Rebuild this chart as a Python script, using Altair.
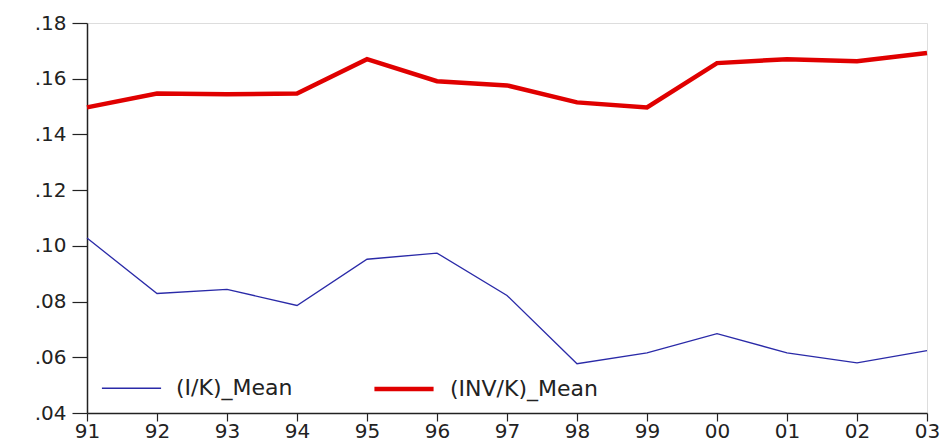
import altair as alt
import pandas as pd

years = ["91", "92", "93", "94", "95", "96", "97", "98", "99", "00", "01", "02", "03"]
ik_mean = [0.1028, 0.0829, 0.0844, 0.0786, 0.0952, 0.0974, 0.0822, 0.0577, 0.0616, 0.0685, 0.0616, 0.0580, 0.0624]
invk_mean = [0.1497, 0.1547, 0.1544, 0.1547, 0.1670, 0.1591, 0.1576, 0.1515, 0.1497, 0.1656, 0.1670, 0.1663, 0.1692]
series_names = ["(I/K)_Mean", "(INV/K)_Mean"]
y_ticks = [0.04, 0.06, 0.08, 0.10, 0.12, 0.14, 0.16, 0.18]

rows = []
for i, y in enumerate(years):
    rows.append({"idx": i, "year": y, "series": series_names[0], "value": ik_mean[i]})
    rows.append({"idx": i, "year": y, "series": series_names[1], "value": invk_mean[i]})
df = pd.DataFrame(rows)

font = "DejaVu Sans"

legend_kw = dict(title=None, orient="none", direction="horizontal",
                 legendX=14, legendY=334, padding=0,
                 symbolType="stroke", symbolSize=3500,
                 labelFontSize=22, labelFont=font, labelColor="#222222",
                 labelOffset=14, columnPadding=72)

chart = alt.Chart(df).mark_line(strokeCap="butt", strokeJoin="miter").encode(
    x=alt.X("year:O", sort=years,
            scale=alt.Scale(type="point", padding=0),
            axis=alt.Axis(title=None, labelAngle=0, tickSize=8, labelPadding=0,
                          labelFontSize=20, labelFont=font, labelColor="#222222",
                          domainColor="#222222", tickColor="#222222", domainWidth=1.5,
                          tickWidth=1.2, grid=False)),
    y=alt.Y("value:Q",
            scale=alt.Scale(domain=[0.04, 0.18], nice=False, zero=False),
            axis=alt.Axis(title=None, values=y_ticks, tickSize=15, labelPadding=6,
                          labelExpr="substring(format(datum.value, '.2f'), 1)",
                          labelFontSize=20, labelFont=font, labelColor="#222222",
                          domainColor="#222222", tickColor="#222222", domainWidth=1.5,
                          tickWidth=1.2, grid=False)),
    color=alt.Color("series:N",
                    scale=alt.Scale(domain=series_names, range=["#2a2aa8", "#e00000"]),
                    legend=alt.Legend(**legend_kw)),
    strokeWidth=alt.StrokeWidth("series:N",
                                scale=alt.Scale(domain=series_names, range=[1.3, 4.5]),
                                legend=alt.Legend(**legend_kw)),
    order=alt.Order("idx:Q"),
).properties(
    width=840,
    height=390,
    autosize=alt.AutoSizeParams(type="none"),
    padding={"left": 87, "top": 23, "right": 18, "bottom": 33},
).configure_view(
    stroke="#444444", strokeWidth=2
).configure(background="white")

chart.save("out.html", embed_options={"renderer": "svg", "actions": False})
